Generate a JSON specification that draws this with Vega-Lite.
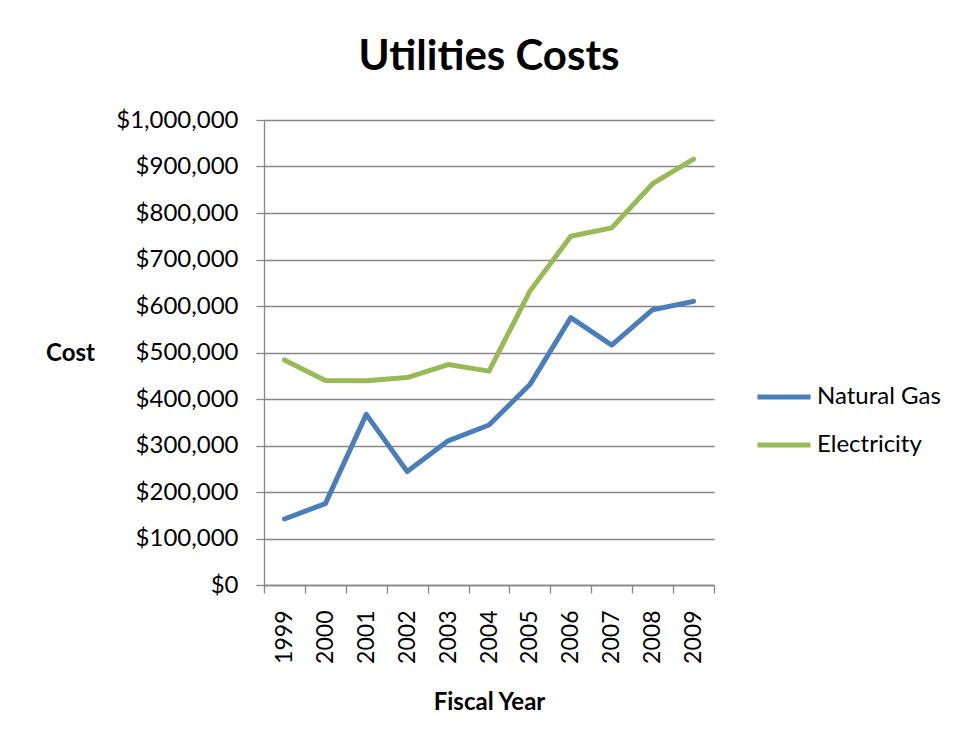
{
  "$schema": "https://vega.github.io/schema/vega-lite/v6.json",
  "width": 450,
  "height": 465,
  "autosize": {"type": "none"},
  "padding": {"left": 264, "top": 120, "right": 240, "bottom": 161},
  "background": "white",
  "config": {
    "font": "Lato",
    "view": {"stroke": null}
  },
  "title": {
    "text": "Utilities Costs",
    "fontSize": 42,
    "fontWeight": "bold",
    "font": "Lato",
    "color": "black",
    "anchor": "middle",
    "frame": "group",
    "offset": 29
  },
  "data": {
    "values": [
      {"year": "1999", "series": "Natural Gas", "cost": 142000},
      {"year": "2000", "series": "Natural Gas", "cost": 175000},
      {"year": "2001", "series": "Natural Gas", "cost": 367000},
      {"year": "2002", "series": "Natural Gas", "cost": 244000},
      {"year": "2003", "series": "Natural Gas", "cost": 310000},
      {"year": "2004", "series": "Natural Gas", "cost": 344000},
      {"year": "2005", "series": "Natural Gas", "cost": 431000},
      {"year": "2006", "series": "Natural Gas", "cost": 575000},
      {"year": "2007", "series": "Natural Gas", "cost": 516000},
      {"year": "2008", "series": "Natural Gas", "cost": 592000},
      {"year": "2009", "series": "Natural Gas", "cost": 610000},
      {"year": "1999", "series": "Electricity", "cost": 484000},
      {"year": "2000", "series": "Electricity", "cost": 440000},
      {"year": "2001", "series": "Electricity", "cost": 439000},
      {"year": "2002", "series": "Electricity", "cost": 446000},
      {"year": "2003", "series": "Electricity", "cost": 474000},
      {"year": "2004", "series": "Electricity", "cost": 460000},
      {"year": "2005", "series": "Electricity", "cost": 632000},
      {"year": "2006", "series": "Electricity", "cost": 750000},
      {"year": "2007", "series": "Electricity", "cost": 768000},
      {"year": "2008", "series": "Electricity", "cost": 863000},
      {"year": "2009", "series": "Electricity", "cost": 916000}
    ]
  },
  "mark": {"type": "line", "strokeWidth": 5, "strokeCap": "round", "strokeJoin": "round"},
  "encoding": {
    "x": {
      "field": "year",
      "type": "ordinal",
      "scale": {"type": "band", "paddingInner": 0, "paddingOuter": 0},
      "axis": {
        "title": "Fiscal Year",
        "titleFont": "Lato",
        "titleFontSize": 24,
        "titleFontWeight": "bold",
        "titleColor": "black",
        "titleBaseline": "middle",
        "titleY": 117,
        "labelAngle": -90,
        "labelFont": "Lato",
        "labelFontSize": 23,
        "labelColor": "black",
        "labelPadding": 17,
        "tickBand": "extent",
        "tickSize": 8,
        "tickColor": "#868686",
        "tickWidth": 1.3,
        "domainColor": "#868686",
        "domainWidth": 1.3,
        "grid": false
      }
    },
    "y": {
      "field": "cost",
      "type": "quantitative",
      "scale": {"domain": [0, 1000000], "nice": false},
      "axis": {
        "title": "Cost",
        "titleFont": "Lato",
        "titleFontSize": 24,
        "titleFontWeight": "bold",
        "titleColor": "black",
        "titleAngle": 0,
        "titleAlign": "center",
        "titleBaseline": "middle",
        "titleX": -194,
        "titleY": 233,
        "values": [0, 100000, 200000, 300000, 400000, 500000, 600000, 700000, 800000, 900000, 1000000],
        "format": "$,.0f",
        "labelFont": "Lato",
        "labelFontSize": 24,
        "labelColor": "black",
        "labelPadding": 18,
        "tickSize": 8,
        "tickColor": "#868686",
        "tickWidth": 1.3,
        "domainColor": "#868686",
        "domainWidth": 1.3,
        "grid": true,
        "gridColor": "#868686",
        "gridWidth": 1.3
      }
    },
    "color": {
      "field": "series",
      "type": "nominal",
      "scale": {"domain": ["Natural Gas", "Electricity"], "range": ["#4A7EBB", "#98B954"]},
      "legend": {
        "title": null,
        "orient": "none",
        "legendX": 491,
        "legendY": 248,
        "padding": 0,
        "symbolType": "stroke",
        "symbolSize": 2809,
        "symbolStrokeWidth": 5,
        "labelFont": "Lato",
        "labelFontSize": 24,
        "labelColor": "black",
        "labelOffset": 4,
        "rowPadding": 7
      }
    }
  }
}
